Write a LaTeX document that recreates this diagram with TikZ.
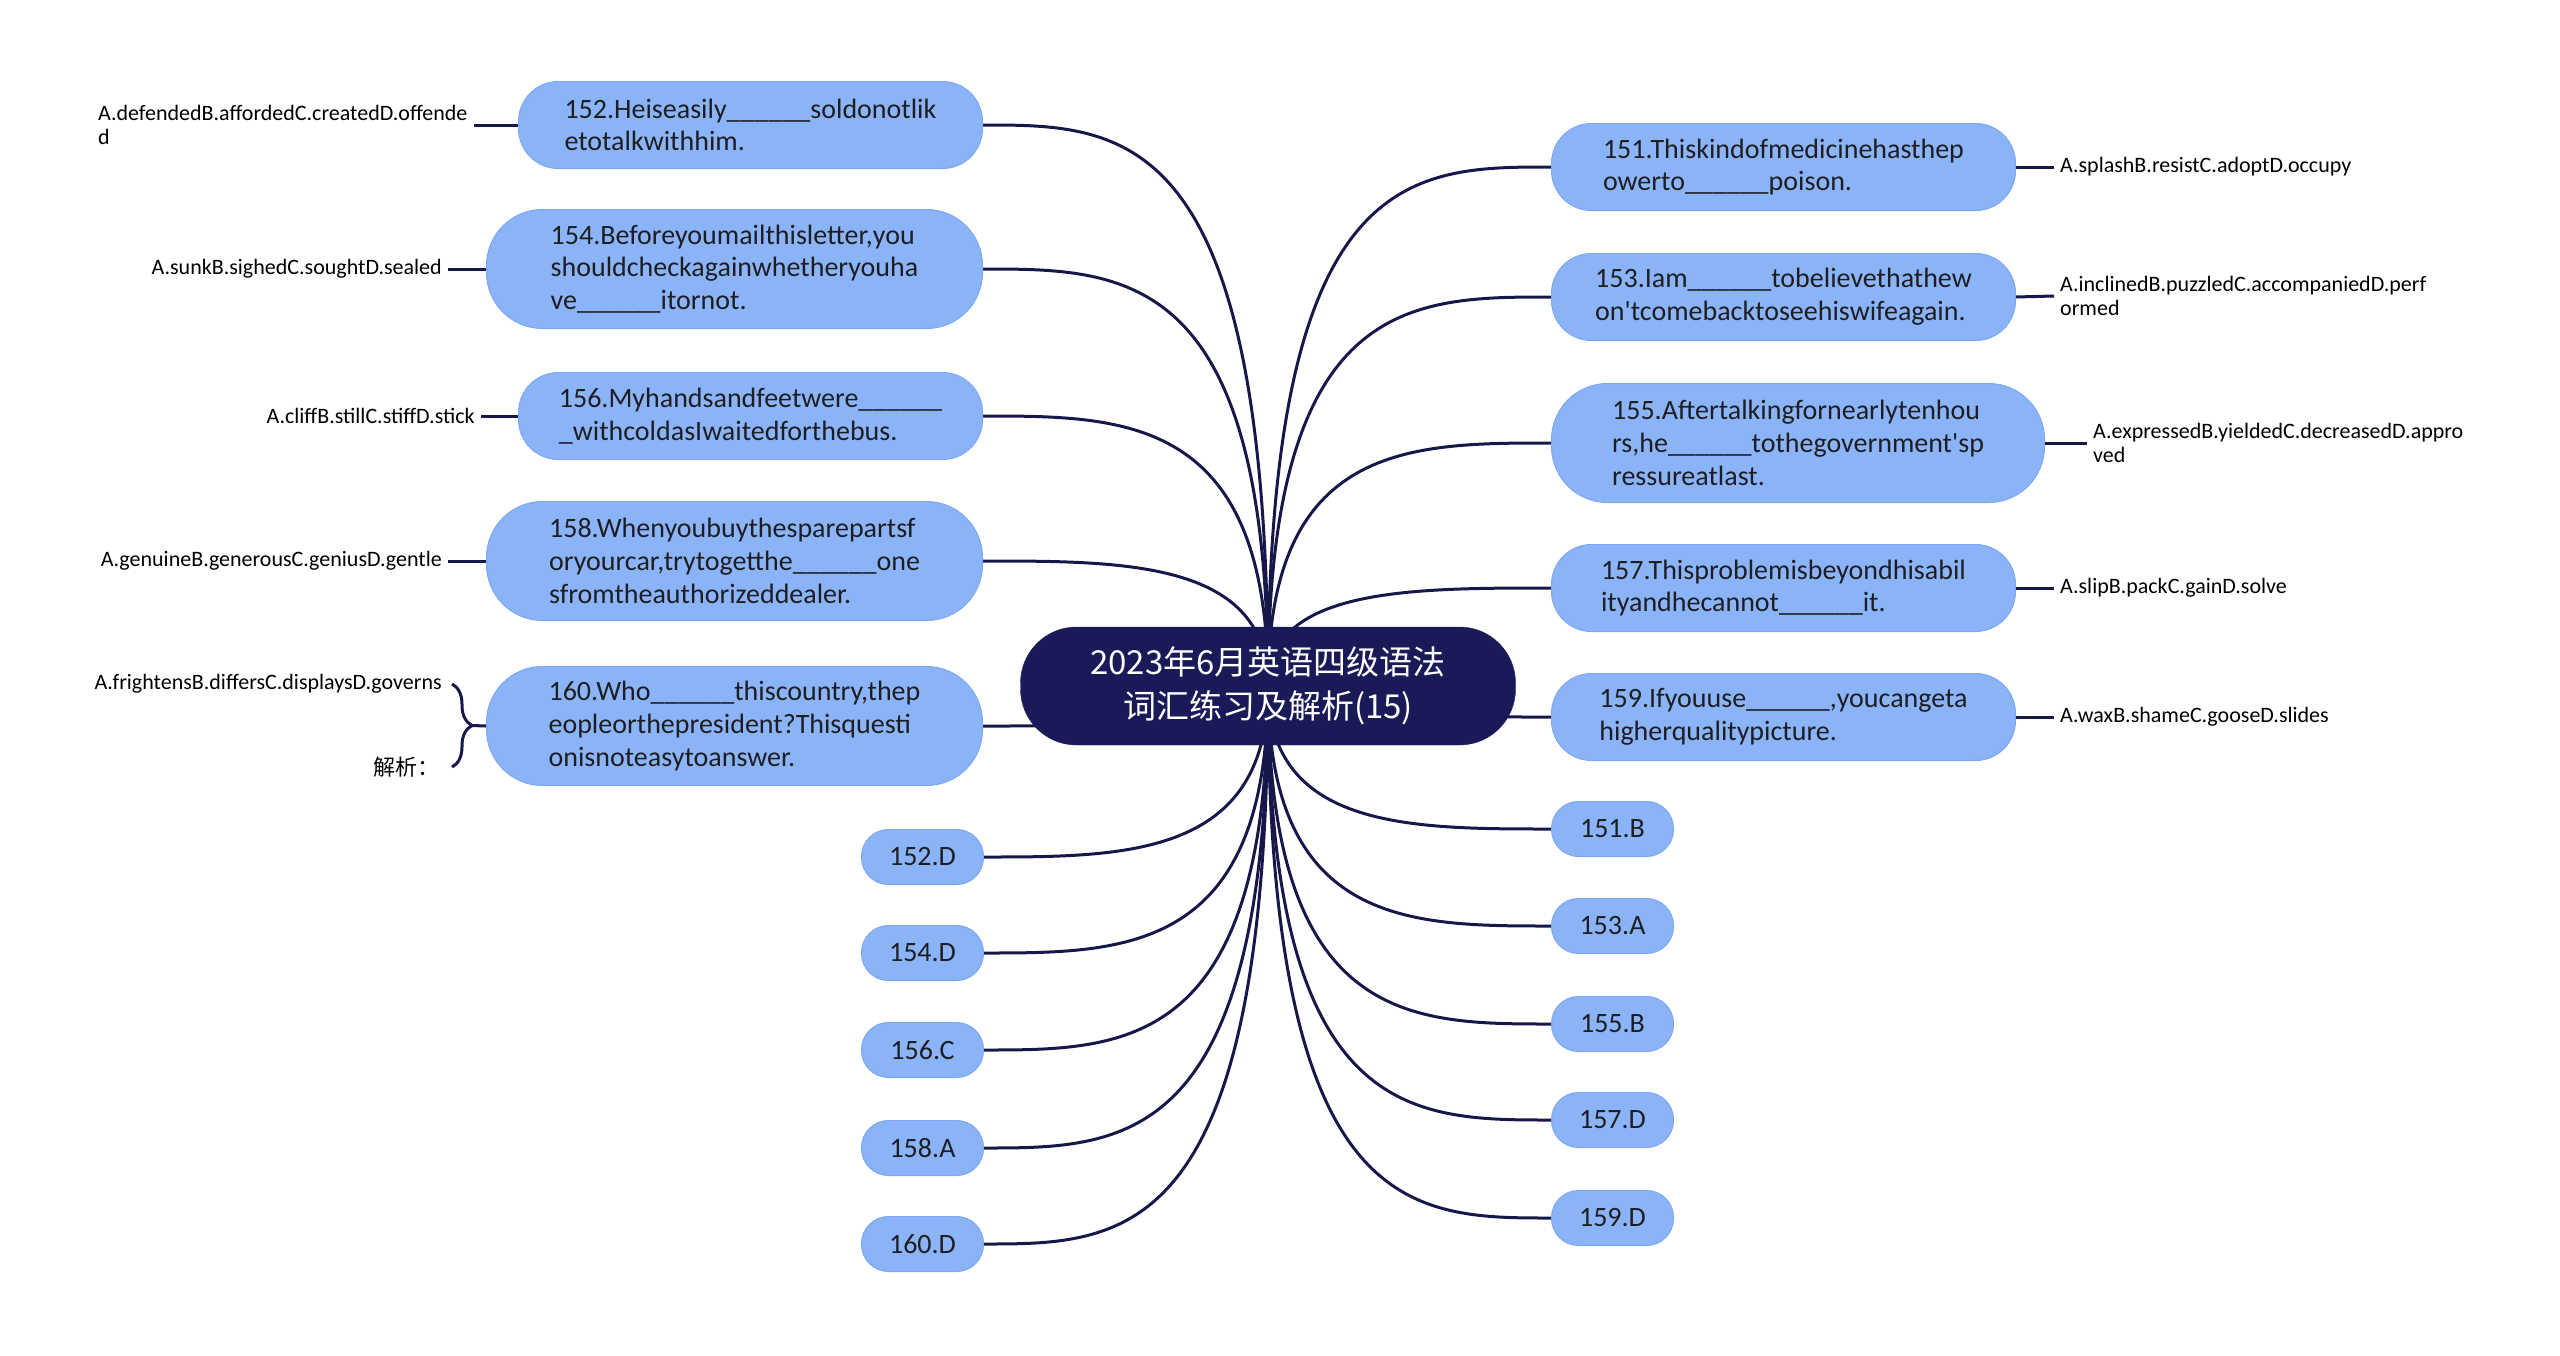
\documentclass[tikz,border=0pt]{standalone}
\usepackage{fontspec}
\setmainfont{Carlito}
\newfontfamily\cjk{Noto Sans CJK SC}
\usepackage{xcolor}
\definecolor{rootnavy}{RGB}{27,26,88}
\definecolor{linknavy}{RGB}{24,23,74}
\definecolor{nodeblue}{RGB}{139,180,248}
\definecolor{nodeedge}{RGB}{124,167,242}
\definecolor{textdark}{RGB}{30,30,34}
\usepackage{tikz}
\usetikzlibrary{
  calc,
  backgrounds,
  decorations.pathreplacing
}
\tikzset{
  rootbox/.style={draw=rootnavy, fill=rootnavy, rounded corners=56pt,
    minimum width=495pt, minimum height=118pt,
    align=center, text=white, font=\cjk\fontsize{33}{44}\selectfont},
  qbox/.style={draw=nodeedge, line width=1pt, fill=nodeblue, rounded corners=40pt,
    minimum width=464pt, minimum height=87pt, inner xsep=0pt,
    align=left, text=textdark, font=\fontsize{28}{32.7}\selectfont},
  qboxl/.style={qbox, rounded corners=56pt,
    minimum width=496pt, minimum height=119pt},
  abox/.style={draw=nodeedge, line width=1pt, fill=nodeblue, rounded corners=27pt,
    minimum width=122pt, minimum height=55pt, inner sep=0pt,
    text=textdark, font=\fontsize{28}{32.7}\selectfont},
  optnode/.style={inner sep=6pt, align=left, text=black,
    font=\fontsize{22}{24.5}\selectfont},
  link/.style={draw=linknavy, line width=3pt},
}
\newcommand{\qblank}{\_\_\_\_\_\_}

\begin{document}
\begin{tikzpicture}[x=1pt, y=-1pt]
  \useasboundingbox (0,0) rectangle (2560,1355);

  % Root
  \node[rootbox] (root) at (1268,686) {2023年6月英语四级语法\\词汇练习及解析(15)};

  % Questions, left
  \node[qbox, anchor=east] (q152) at (983,125) {152.Heiseasily\qblank soldonotlik\\etotalkwithhim.};
  \node[qboxl, anchor=east] (q154) at (983,269) {154.Beforeyoumailthisletter,you\\shouldcheckagainwhetheryouha\\ve\qblank itornot.};
  \node[qbox, anchor=east] (q156) at (983,416) {156.Myhandsandfeetwere\qblank\\\_withcoldasIwaitedforthebus.};
  \node[qboxl, anchor=east] (q158) at (983,561) {158.Whenyoubuythesparepartsf\\oryourcar,trytogetthe\qblank one\\sfromtheauthorizeddealer.};
  \node[qboxl, anchor=east] (q160) at (983,726) {160.Who\qblank thiscountry,thep\\eopleorthepresident?Thisquesti\\onisnoteasytoanswer.};

  % Questions, right
  \node[qbox, anchor=west] (q151) at (1551,167) {151.Thiskindofmedicinehasthep\\owerto\qblank poison.};
  \node[qbox, anchor=west] (q153) at (1551,297) {153.Iam\qblank tobelievethathew\\on\textquotesingle tcomebacktoseehiswifeagain.};
  \node[qboxl, anchor=west, minimum width=493pt] (q155) at (1551,443) {155.Aftertalkingfornearlytenhou\\rs,he\qblank tothegovernment\textquotesingle sp\\ressureatlast.};
  \node[qbox, anchor=west] (q157) at (1551,588) {157.Thisproblemisbeyondhisabil\\ityandhecannot\qblank it.};
  \node[qbox, anchor=west] (q159) at (1551,717) {159.Ifyouuse\qblank,youcangeta\\higherqualitypicture.};

  % Answers
  \node[abox, anchor=east] (a152) at (984,857) {152.D};
  \node[abox, anchor=east] (a154) at (984,953) {154.D};
  \node[abox, anchor=east] (a156) at (984,1050) {156.C};
  \node[abox, anchor=east] (a158) at (984,1148) {158.A};
  \node[abox, anchor=east] (a160) at (984,1244) {160.D};
  \node[abox, anchor=west] (a151) at (1551,829) {151.B};
  \node[abox, anchor=west] (a153) at (1551,926) {153.A};
  \node[abox, anchor=west] (a155) at (1551,1024) {155.B};
  \node[abox, anchor=west] (a157) at (1551,1120) {157.D};
  \node[abox, anchor=west] (a159) at (1551,1218) {159.D};

  % Options
  \node[optnode, anchor=west] (o152) at (92,125) {A.defendedB.affordedC.createdD.offende\\d};
  \node[optnode, anchor=east] (o154) at (448,269) {A.sunkB.sighedC.soughtD.sealed};
  \node[optnode, anchor=east] (o156) at (481,416) {A.cliffB.stillC.stiffD.stick};
  \node[optnode, anchor=east] (o158) at (448,561) {A.genuineB.generousC.geniusD.gentle};
  \node[optnode, anchor=east] (o160a) at (448,684) {A.frightensB.differsC.displaysD.governs};
  \node[optnode, anchor=east] (o160b) at (446,767) {\cjk 解析：};
  \node[optnode, anchor=west] (o151) at (2054,167) {A.splashB.resistC.adoptD.occupy};
  \node[optnode, anchor=west] (o153) at (2054,296) {A.inclinedB.puzzledC.accompaniedD.perf\\ormed};
  \node[optnode, anchor=west] (o155) at (2087,443) {A.expressedB.yieldedC.decreasedD.appro\\ved};
  \node[optnode, anchor=west] (o157) at (2054,588) {A.slipB.packC.gainD.solve};
  \node[optnode, anchor=west] (o159) at (2054,717) {A.waxB.shameC.gooseD.slides};

  % Option links
  \foreach \n in {152,154,156,158}
    \draw[link] (o\n.east) -- (q\n.west);
  \foreach \n in {151,153,155,157,159}
    \draw[link] (q\n.east) -- (o\n.west);

  % Brace for 160
  \coordinate (b160t) at (452,684);
  \coordinate (b160b) at (452,767);
  \coordinate (b160m) at (472,725.5);
  \draw[link, decorate, decoration={brace, amplitude=20pt}] (b160t) -- (b160b);
  \draw[link] (b160m) -- (q160.west);

  % Branches from root
  \begin{scope}[on background layer]
    \foreach \n in {q152,q154,q156,q158,q160,a152,a154,a156,a158,a160}
      \draw[link] (root.center) .. controls (root.center |- \n.east)
        and ($(root.center |- \n.east)!0.5!(\n.east)$) .. (\n.east);
    \foreach \n in {q151,q153,q155,q157,q159,a151,a153,a155,a157,a159}
      \draw[link] (root.center) .. controls (root.center |- \n.west)
        and ($(root.center |- \n.west)!0.5!(\n.west)$) .. (\n.west);
  \end{scope}
\end{tikzpicture}
\end{document}
